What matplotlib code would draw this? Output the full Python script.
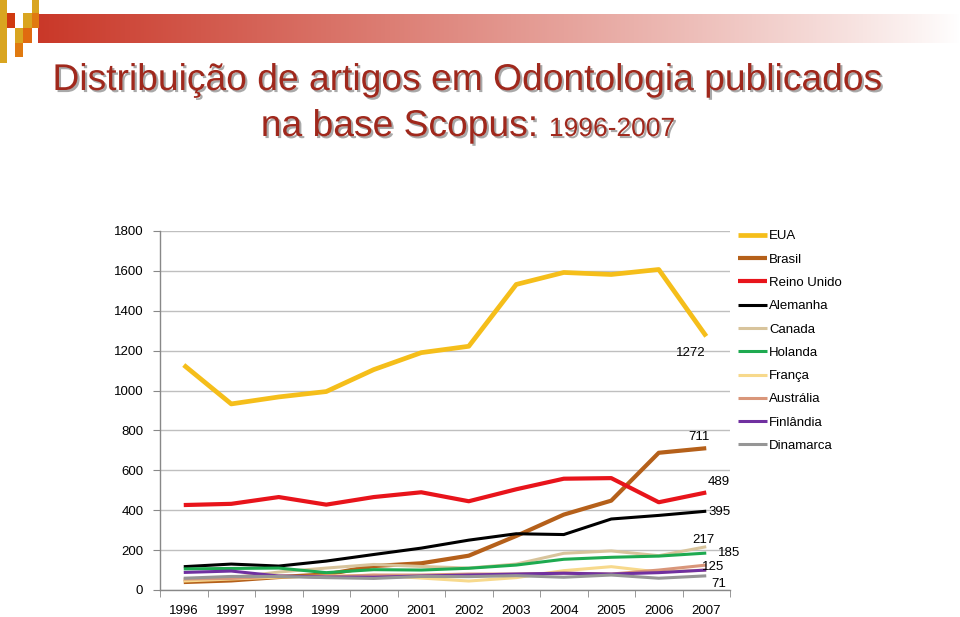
import matplotlib
matplotlib.use("Agg")
import matplotlib.pyplot as plt
import matplotlib.patheffects as pe
from matplotlib.patches import Rectangle
import numpy as np

years = ["1996", "1997", "1998", "1999", "2000", "2001", "2002", "2003", "2004", "2005", "2006", "2007"]
countries = ["EUA", "Brasil", "Reino Unido", "Alemanha", "Canada", "Holanda", "França", "Austrália", "Finlândia", "Dinamarca"]

eua = [1128, 933, 968, 995, 1105, 1190, 1222, 1532, 1592, 1582, 1607, 1272]
brasil = [40, 48, 65, 78, 120, 134, 172, 271, 378, 448, 688, 711]
reino_unido = [426, 432, 466, 428, 466, 490, 445, 505, 558, 561, 440, 489]
alemanha = [117, 130, 120, 145, 178, 210, 250, 282, 278, 356, 374, 395]
canada = [52, 62, 90, 110, 128, 118, 110, 130, 184, 196, 172, 217]
holanda = [106, 108, 110, 87, 102, 100, 109, 125, 154, 164, 170, 185]
franca = [45, 55, 65, 70, 74, 60, 45, 62, 97, 117, 90, 100]
australia = [55, 58, 70, 65, 75, 75, 80, 80, 85, 80, 100, 125]
finlandia = [88, 95, 70, 65, 64, 70, 75, 80, 84, 80, 87, 100]
dinamarca = [59, 68, 68, 62, 58, 68, 67, 72, 64, 75, 59, 71]

series = [eua, brasil, reino_unido, alemanha, canada, holanda, franca, australia, finlandia, dinamarca]
colors = ["#F5BE1A", "#B5601A", "#E8141B", "#000000", "#D8C49C", "#1EAA50",
          "#F7D98C", "#D9967A", "#7030A0", "#969696"]
widths = [3.4, 3.0, 3.0, 2.2, 2.2, 2.2, 2.2, 2.2, 2.2, 2.2]

# data labels: (series index, text, offset pixels, ha)
labels = [(0, "1272", (-15, -17), "center"),
          (1, "711", (-7, 11), "center"),
          (2, "489", (13, 10), "center"),
          (3, "395", (2, -1), "left"),
          (4, "217", (-3, 7), "center"),
          (5, "185", (23, 0), "center"),
          (7, "125", (7, -2), "center"),
          (9, "71", (12, -8), "center")]

W, H = 960, 617
fig = plt.figure(figsize=(W / 100, H / 100), dpi=100)
fig.patch.set_facecolor("white")

# header decoration
hdr = fig.add_axes([0, 0, 1, 1], zorder=-5)
hdr.set_xlim(0, W)
hdr.set_ylim(H, 0)
hdr.axis("off")
grad = np.linspace(0, 1, 512)
start = np.array([0.79, 0.22, 0.16])
t = (1 - grad[:, None]) ** 0.9
img = (start[None, :] * t + (1 - t))[None, :, :]
hdr.imshow(img, extent=[38, 960, 43, 14], aspect="auto", interpolation="bilinear")
squares = [(0, 0, 7, 63, "#D9A520"), (7, 13, 8, 15, "#D03A10"), (32, 0, 7, 13, "#D9A520"),
           (23, 13, 9, 15, "#D9A520"), (32, 13, 7, 15, "#E07A10"), (15, 28, 8, 15, "#D9A520"),
           (23, 28, 9, 15, "#E06A10"), (15, 43, 8, 14, "#E07A10")]
for x0, y0, w, h, c in squares:
    hdr.add_patch(Rectangle((x0, y0), w, h, facecolor=c, edgecolor="none"))

title_color = "#A0281C"
shadow = [pe.SimplePatchShadow(offset=(1.5, -1.5), shadow_rgbFace="#555555", alpha=0.5), pe.Normal()]
tfont = ["Liberation Sans", "DejaVu Sans"]
fig.text(468 / W, 1 - 90 / H, "Distribuição de artigos em Odontologia publicados",
         ha="center", va="baseline", fontsize=26.8, color=title_color, family=tfont, path_effects=shadow)
t1 = fig.text(0, 1 - 136 / H, "na base Scopus: ", ha="left", va="baseline", fontsize=26.8,
              color=title_color, family=tfont, path_effects=shadow)
t2 = fig.text(0, 1 - 136 / H, "1996-2007", ha="left", va="baseline", fontsize=19,
              color=title_color, family=tfont, path_effects=shadow)
r = fig.canvas.get_renderer()
w1 = t1.get_window_extent(r).width
w2 = t2.get_window_extent(r).width
x0 = 468 - (w1 + w2) / 2
t1.set_x(x0 / W)
t2.set_x((x0 + w1) / W)

# chart
ax = fig.add_axes([160 / W, 1 - 590 / H, 570 / W, 359 / H])
x = np.arange(len(years))
for s, name, c, lw in zip(series, countries, colors, widths):
    ax.plot(x, s, color=c, lw=lw, label=name, solid_joinstyle="round", solid_capstyle="butt", zorder=3)

lfont = "Liberation Sans"
for idx, txt, off, ha in labels:
    ax.annotate(txt, (x[-1], series[idx][-1]), xytext=off, textcoords="offset pixels",
                ha=ha, va="center", fontsize=9.5, family=lfont, color="black", zorder=5,
                annotation_clip=False)

ax.set_xlim(-0.5, len(years) - 0.5)
ax.set_ylim(0, 1800)
ax.set_yticks(range(0, 1801, 200))
ax.set_xticks(x)
ax.set_xticklabels(years)
ax.set_xticks(np.arange(-0.5, len(years), 1.0), minor=True)
ax.tick_params(axis="x", which="major", length=0, pad=11, labelsize=9.5)
ax.tick_params(axis="x", which="minor", length=5, color="#888888", direction="out")
ax.tick_params(axis="y", length=5, color="#888888", pad=7, labelsize=9.5)
for lab in ax.get_xticklabels() + ax.get_yticklabels():
    lab.set_family(lfont)
ax.grid(axis="y", color="#BFBFBF", lw=1)
ax.set_axisbelow(True)
for sp in ["top", "right"]:
    ax.spines[sp].set_visible(False)
for sp in ["left", "bottom"]:
    ax.spines[sp].set_color("#888888")
    ax.spines[sp].set_linewidth(1)

leg = ax.legend(loc="upper left", frameon=False, prop={"family": lfont, "size": 9.5},
                handlelength=2.2, handletextpad=0.15, labelspacing=0.84, borderaxespad=0,
                borderpad=0)
leg.set_bbox_to_anchor((738 / W, 1 - 230 / H), transform=fig.transFigure)

fig.savefig("out.png", dpi=100, facecolor="white")
